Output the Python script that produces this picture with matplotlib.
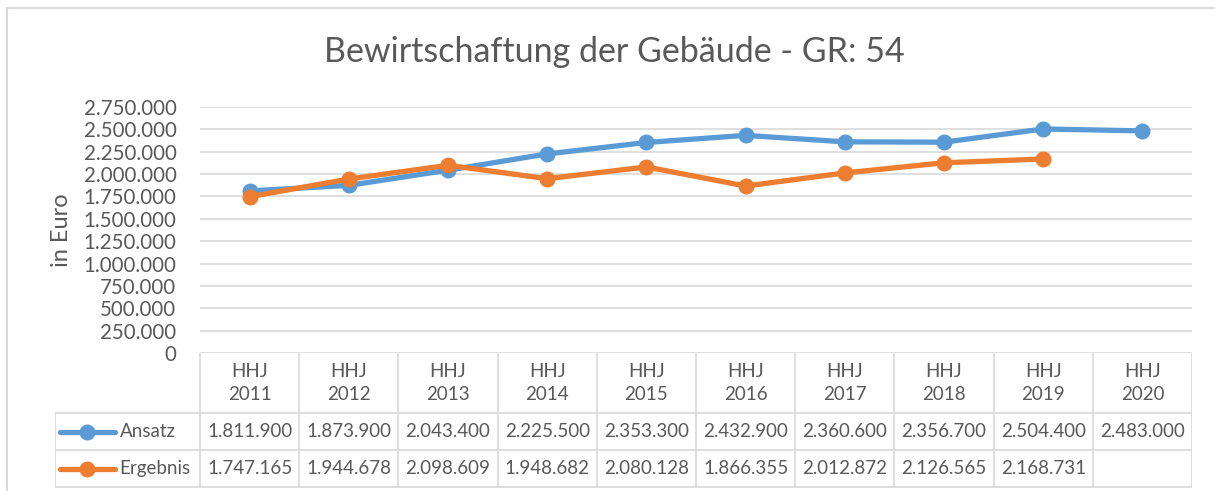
import numpy as np
import matplotlib.pyplot as plt

plt.rcParams['font.family'] = ['Lato', 'DejaVu Sans']

# data
years = ['2011', '2012', '2013', '2014', '2015', '2016', '2017', '2018', '2019', '2020']
ansatz = [1811900, 1873900, 2043400, 2225500, 2353300, 2432900, 2360600, 2356700, 2504400, 2483000]
ergebnis = [1747165, 1944678, 2098609, 1948682, 2080128, 1866355, 2012872, 2126565, 2168731, np.nan]
series_names = ['Ansatz', 'Ergebnis']
colors = ['#5b9bd5', '#ed7d31']
title = 'Bewirtschaftung der Gebäude - GR: 54'
ylabel = 'in Euro'

W, H = 1215, 491
txt = '#595959'
grid = '#d9d9d9'


def fmt(v):
    if np.isnan(v):
        return ''
    return f'{int(round(v)):,}'.replace(',', '.')


def px(x0, y0, x1, y1):
    # pixel box (top-left origin) -> figure fraction
    return [x0 / W, 1 - y1 / H, (x1 - x0) / W, (y1 - y0) / H]


fig = plt.figure(figsize=(W / 100, H / 100), dpi=100)

# chart frame
frame = fig.add_axes([0, 0, 1, 1])
frame.set_xlim(0, W)
frame.set_ylim(H, 0)
frame.axis('off')
frame.plot([7, 7, W], [H, 8, 8], color=grid, lw=1.5)

fig.text(614 / W, 1 - 52 / H, title, ha='center', va='center', fontsize=24.5, color=txt)

# main plot
ax = fig.add_axes(px(200, 107, 1192, 353))
n = len(years)
x = np.arange(n)
for vals, c in zip([ansatz, ergebnis], colors):
    ax.plot(x, vals, color=c, lw=3.8, marker='o', markersize=10.5, solid_capstyle='round', zorder=3)
ax.set_xlim(-0.5, n - 0.5)
ax.set_ylim(0, 2750000)
ax.set_yticks(np.arange(0, 2750001, 250000))
ax.set_yticklabels([fmt(v) for v in np.arange(0, 2750001, 250000)])
ax.tick_params(axis='y', length=0, labelsize=14.8, labelcolor=txt, pad=17)
ax.set_xticks([])
ax.grid(axis='y', color=grid, lw=1.2)
for s in ['top', 'right', 'left', 'bottom']:
    ax.spines[s].set_visible(False)
ax.set_ylabel(ylabel, fontsize=17, color=txt, labelpad=8)

# data table
cw = (1192 - 200) / n
lead = (200 - 55) / cw
tb = fig.add_axes(px(55, 353, 1192, 488))
tb.set_xlim(-0.5 - lead, n - 0.5)
tb.set_ylim(135, 0)
tb.axis('off')
lc = '#d9d9d9'
# header verticals
for i in range(n + 1):
    tb.plot([i - 0.5, i - 0.5], [0, 135], color=lc, lw=1.2)
tb.plot([-0.5 - lead, -0.5 - lead], [60, 135], color=lc, lw=1.2)
for yy in [60, 97, 134]:
    tb.plot([-0.5 - lead, n - 0.5], [yy, yy], color=lc, lw=1.2)
for i, yname in enumerate(years):
    tb.text(i, 30, 'HHJ\n' + yname, ha='center', va='center', fontsize=13.5, color=txt, linespacing=1.4)
for r, (name, vals, c) in enumerate(zip(series_names, [ansatz, ergebnis], colors)):
    yc = 78.5 + r * 37
    x0 = -0.5 - lead + 0.05
    tb.plot([x0, x0 + 0.55], [yc, yc], color=c, lw=3.8, solid_capstyle='round')
    tb.plot([x0 + 0.275], [yc], marker='o', color=c, markersize=10.5)
    tb.text(x0 + 0.6, yc, name, ha='left', va='center', fontsize=13.5, color=txt)
    for i, v in enumerate(vals):
        tb.text(i, yc, fmt(v), ha='center', va='center', fontsize=13.5, color=txt)

fig.savefig('out.png', dpi=100)
